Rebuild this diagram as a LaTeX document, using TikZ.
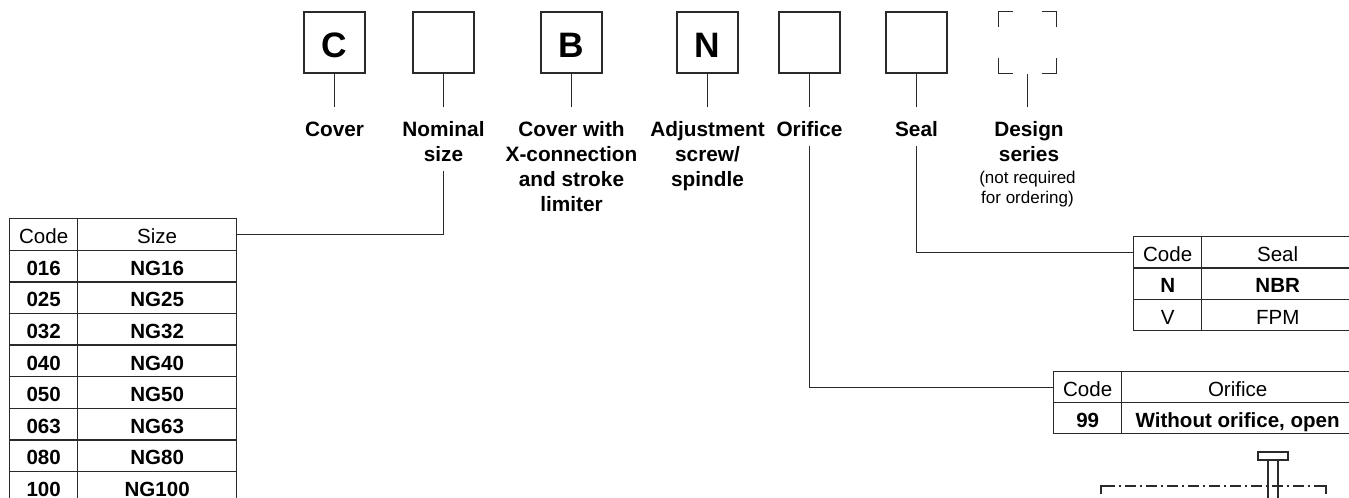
\documentclass[tikz,border=0pt]{standalone}
\usepackage{fontspec}
\setmainfont{Liberation Sans}
\begin{document}
\begin{tikzpicture}[x=0.75pt,y=-0.75pt]
\definecolor{lc}{HTML}{2A2A2A}
\tikzset{
 codebox/.style={draw=lc, line width=1pt, minimum width=45.75pt, minimum height=45.75pt, inner sep=0pt, text height=22.6pt, text depth=0pt, font=\bfseries\fontsize{26.5}{30}\selectfont},
 lbl/.style={font=\bfseries\fontsize{15.6}{18.75}\selectfont, align=center, inner sep=0pt, anchor=north},
 note/.style={font=\fontsize{12.75}{15}\selectfont, align=center, inner sep=0pt, anchor=north},
 conn/.style={draw=lc, line width=1pt},
 cell/.style={draw=lc, line width=1pt, inner sep=0pt, anchor=north west, text height=13.9pt, text depth=0pt, font=\fontsize{15.4}{18}\selectfont},
 bcell/.style={cell, font=\bfseries\fontsize{15.4}{18}\selectfont},
}
\useasboundingbox (0,0) rectangle (1349,497);
\clip (0,0) rectangle (1349,497);
\coordinate (lineend) at (0,107);

% code boxes
\node[codebox] (bC) at (334.5,42.5) {C};
\node[codebox] (bS) at (443.5,42.5) {};
\node[codebox] (bB) at (571.5,42.5) {B};
\node[codebox] (bN) at (707.5,42.5) {N};
\node[codebox] (bO) at (809.5,42.5) {};
\node[codebox] (bE) at (916.5,42.5) {};
\node[minimum width=43.5pt, minimum height=45.75pt, inner sep=0pt] (bD) at (1027.5,42.5) {};
\draw[conn] ([yshift=-11.25pt]bD.north west) -- (bD.north west) -- ([xshift=11.25pt]bD.north west);
\draw[conn] ([yshift=-11.25pt]bD.north east) -- (bD.north east) -- ([xshift=-11.25pt]bD.north east);
\draw[conn] ([yshift=11.25pt]bD.south west) -- (bD.south west) -- ([xshift=11.25pt]bD.south west);
\draw[conn] ([yshift=11.25pt]bD.south east) -- (bD.south east) -- ([xshift=-11.25pt]bD.south east);

% labels
\node[lbl] (lC) at (334.5,121.5) {Cover};
\node[lbl] (lS) at (443.5,121.5) {Nominal\\size};
\node[lbl] (lB) at (571.5,121.5) {Cover with\\X-connection\\and stroke\\limiter};
\node[lbl] (lN) at (707.5,121.5) {Adjustment\\screw/\\spindle};
\node[lbl] (lO) at (809.5,121.5) {Orifice};
\node[lbl] (lE) at (916.5,121.5) {Seal};
\node[lbl] (lD) at (1029,121.5) {Design\\series};
\node[note] (nD) at (1027.5,171) {(not required\\for ordering)};

% box to label lines
\foreach \b in {bC,bS,bB,bN,bO,bE}
  \draw[conn] (\b.south) -- (\b.south |- lineend);
\draw[conn] ([yshift=-0.75pt]bD.south) -- (bD.south |- lineend);

% size table
\node[cell, minimum width=51pt, minimum height=23.7pt] (sz0a) at (9,218) {Code};
\node[cell, minimum width=119.25pt, minimum height=23.7pt] (sz0b) at (77,218) {Size};
\foreach \c/\s [count=\i from 1] in {016/NG16,025/NG25,032/NG32,040/NG40,050/NG50,063/NG63,080/NG80,100/NG100}{
  \node[bcell, minimum width=51pt, minimum height=23.7pt] (sz\i a) at (9,{218+31.6*\i}) {\c};
  \node[bcell, minimum width=119.25pt, minimum height=23.7pt] (sz\i b) at (77,{218+31.6*\i}) {\s};
}

% seal table
\node[cell, minimum width=51pt, minimum height=23.5pt] (se0a) at (1133,236) {Code};
\node[cell, minimum width=114pt, minimum height=23.5pt] (se0b) at (1201,236) {Seal};
\node[bcell, minimum width=51pt, minimum height=23.5pt] (se1a) at (1133,267.33) {N};
\node[bcell, minimum width=114pt, minimum height=23.5pt] (se1b) at (1201,267.33) {NBR};
\node[cell, minimum width=51pt, minimum height=23.5pt] (se2a) at (1133,298.67) {V};
\node[cell, minimum width=114pt, minimum height=23.5pt] (se2b) at (1201,298.67) {FPM};

% orifice table
\node[cell, minimum width=51pt, minimum height=23.25pt] (or0a) at (1053,371) {Code};
\node[cell, minimum width=174pt, minimum height=23.25pt] (or0b) at (1121,371) {Orifice};
\node[bcell, minimum width=51pt, minimum height=23.25pt] (or1a) at (1053,402) {99};
\node[bcell, minimum width=174pt, minimum height=23.25pt] (or1b) at (1121,402) {Without orifice, open};

% connectors to tables
\draw[conn] ([yshift=-6.5pt]lS.south) |- (sz0b.east);
\draw[conn] ([yshift=-6.5pt]lO.south) |- (or0a.west);
\draw[conn] ([yshift=-6.5pt]lE.south) |- (se0a.west);

% bottom fragment
\draw[conn] (1258,452) rectangle (1288,460);
\draw[conn] (1268,460) -- (1268,500);
\draw[conn] (1278,460) -- (1278,500);
\draw[conn, dash pattern=on 8.25pt off 3pt on 1.5pt off 3pt] (1104,486) -- (1323,486);
\draw[conn] (1101,494) -- (1101,486) -- (1104,486);
\draw[conn] (1326,494) -- (1326,486) -- (1323,486);
\end{tikzpicture}
\end{document}
